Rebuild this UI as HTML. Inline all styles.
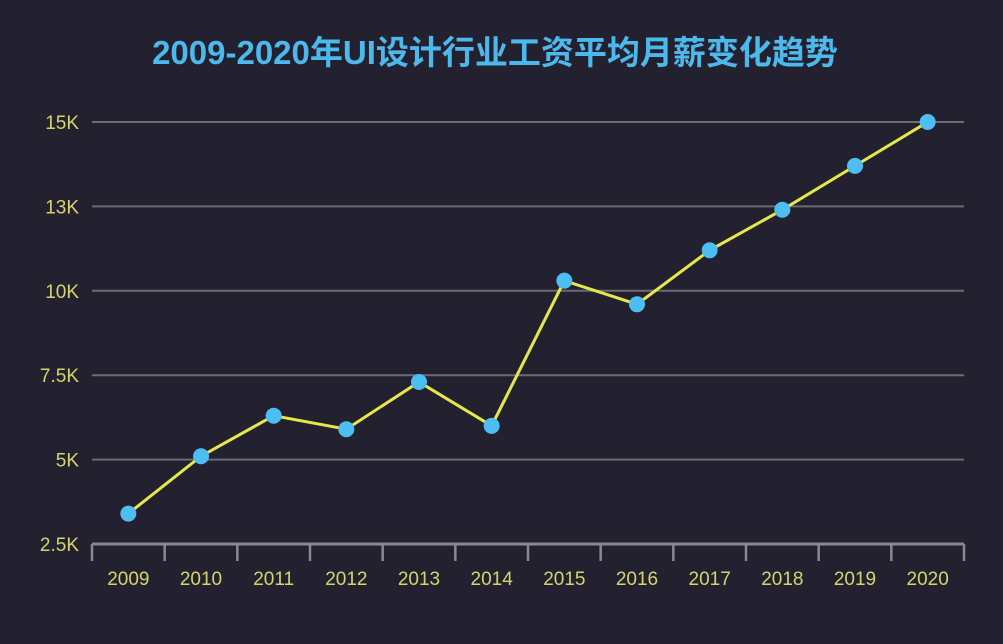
<!DOCTYPE html>
<html><head><meta charset="utf-8">
<style>
html,body{margin:0;padding:0;background:#23212f;}
svg{display:block;}
</style></head>
<body>
<svg id="chart" width="1003" height="644" viewBox="0 0 1003 644" xmlns="http://www.w3.org/2000/svg">
<rect x="0" y="0" width="1003" height="644" fill="#23212f"/>
<text x="495" y="64" text-anchor="middle" font-family="'Liberation Sans','Noto Sans CJK SC',sans-serif" font-weight="bold" font-size="33" fill="#4cb8ec">2009-2020年UI设计行业工资平均月薪变化趋势</text>
<g id="grid"></g><g id="axis"></g><g id="series"></g>
</svg>
<script>
const categories = ["2009","2010","2011","2012","2013","2014","2015","2016","2017","2018","2019","2020"];
const salaries = [3.4, 5.1, 6.3, 5.9, 7.3, 6.0, 10.3, 9.6, 11.2, 12.4, 13.7, 15.0];
const yTicks = [2.5, 5, 7.5, 10, 12.5, 15];
const yTickLabels = ["2.5K","5K","7.5K","10K","13K","15K"];
const NS = "http://www.w3.org/2000/svg";
const x0 = 92, x1 = 964, yTop = 122, yBot = 544, yMin = 2.5, yMax = 15;
const band = (x1 - x0) / categories.length;
function xs(i){ return x0 + band * (i + 0.5); }
function ys(v){ return yBot - (v - yMin) / (yMax - yMin) * (yBot - yTop); }
function mk(tag, attrs, parent){ const e = document.createElementNS(NS, tag); for (const k in attrs) e.setAttribute(k, attrs[k]); parent.appendChild(e); return e; }
const grid = document.getElementById('grid'), axis = document.getElementById('axis'), series = document.getElementById('series');
yTicks.forEach((v, i) => {
  if (i > 0) {
    const l = mk('line', {x1: x0, x2: x1, y1: ys(v), y2: ys(v), stroke: '#6c6a75', 'stroke-width': 2}, grid);
    
    
  }
  const t = mk('text', {x: 79, y: ys(v) + 7, 'text-anchor': 'end', 'font-family': 'Liberation Sans, sans-serif', 'font-size': 19, fill: '#d4d56c'}, axis);
  t.textContent = yTickLabels[i];
  
  
});
const base = mk('line', {x1: x0, x2: x1, y1: yBot, y2: yBot, stroke: '#8a8892', 'stroke-width': 3}, axis);


for (let i = 0; i <= categories.length; i++) {
  const tk = mk('line', {x1: x0 + band * i, x2: x0 + band * i, y1: yBot, y2: yBot + 17, stroke: '#8a8892', 'stroke-width': 2.5}, axis);
  
  
}
categories.forEach((c, i) => {
  const t = mk('text', {x: xs(i), y: 585, 'text-anchor': 'middle', 'font-family': 'Liberation Sans, sans-serif', 'font-size': 19, fill: '#d4d56c'}, axis);
  t.textContent = c;
  
  
});
const pl = mk('polyline', {points: salaries.map((v, i) => xs(i) + ',' + ys(v)).join(' '), fill: 'none', stroke: '#e6e84a', 'stroke-width': 3}, series);


salaries.forEach((v, i) => {
  const c = mk('circle', {cx: xs(i), cy: ys(v), r: 8, fill: '#4cbef2'}, series);
  
  
});
</script>
</body></html>
